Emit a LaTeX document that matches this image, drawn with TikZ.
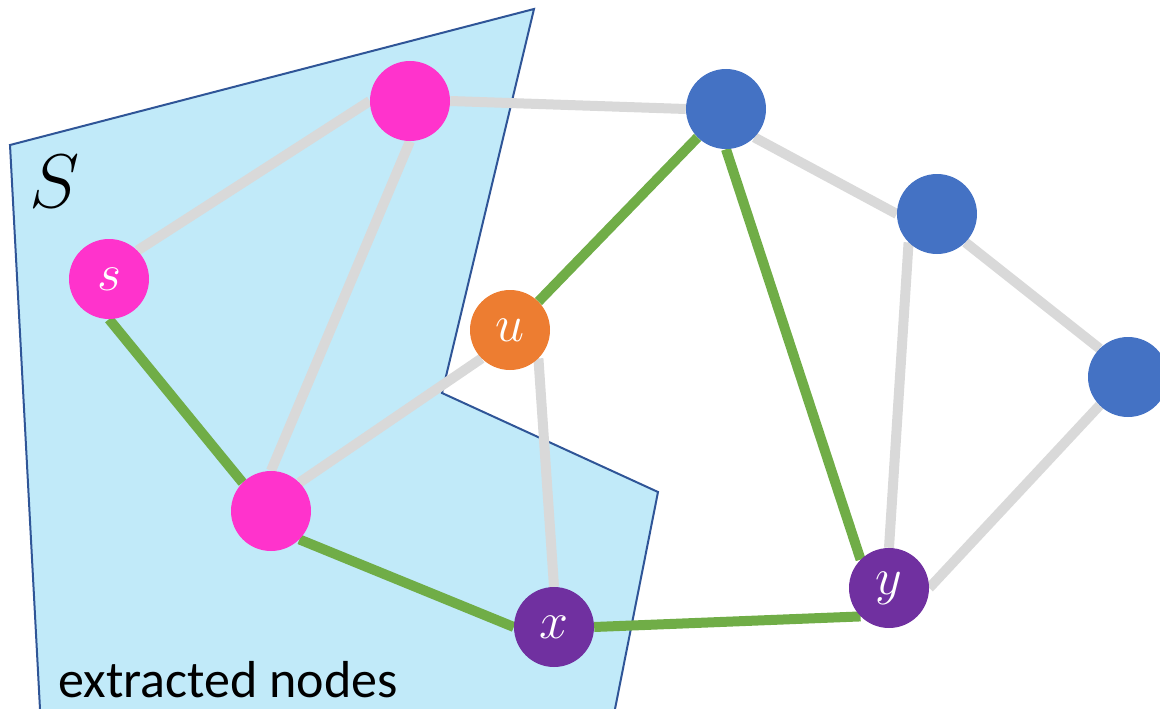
\documentclass[tikz,border=0pt]{standalone}
\usepackage{fix-cm}
\usepackage{fontspec}
\setmainfont{Carlito}
\usetikzlibrary{backgrounds}
\definecolor{pinkN}{HTML}{FF33CC}
\definecolor{blueN}{HTML}{4472C4}
\definecolor{orangeN}{HTML}{ED7D31}
\definecolor{purpleN}{HTML}{7030A0}
\definecolor{greenE}{HTML}{70AD47}
\definecolor{grayE}{HTML}{D9D9D9}
\definecolor{regionfill}{HTML}{C1EAF9}
\definecolor{regionline}{HTML}{2F5597}
\begin{document}
\begin{tikzpicture}[x=1pt,y=-1pt,
  vtx/.style={circle,minimum size=80pt,inner sep=0pt,text=white,font=\fontsize{52}{56}\selectfont},
  grayedge/.style={grayE,line width=10pt},
  greenedge/.style={greenE,line width=10pt},
  region/.style={draw=regionline,line width=2pt,line join=miter}]
\useasboundingbox (0,0) rectangle (1160,709);
% nodes
\node[vtx,fill=pinkN] (p1) at (410,101) {};
\node[vtx,fill=pinkN] (s) at (109,279) {$s$};
\node[vtx,fill=pinkN] (p2) at (271,511) {};
\node[vtx,fill=orangeN] (u) at (510,330) {$u$};
\node[vtx,fill=purpleN] (x) at (554,627) {$x$};
\node[vtx,fill=purpleN] (y) at (889,588) {$y$};
\node[vtx,fill=blueN] (b1) at (726,109) {};
\node[vtx,fill=blueN] (b2) at (937,214) {};
\node[vtx,fill=blueN] (b3) at (1128,377) {};
\begin{pgfonlayer}{background}
  \fill[regionfill] (10,145) -- (534,9) -- (442,393) -- (658,492) -- (615,709) -- (40,709) -- cycle;
  \draw[region] (40,709) -- (10,145) -- (534,9) -- (442,393) -- (658,492) -- (615,709);
  \draw[grayedge] (s.north east) -- (p1.west);
  \draw[grayedge] (p1.south) -- (p2.north);
  \draw[grayedge] (p1.east) -- (b1.west);
  \draw[grayedge] (p2.north east) -- (u.south west);
  \draw[grayedge] (u.south east) -- (x.north);
  \draw[grayedge] (b1.south east) -- (b2.west);
  \draw[grayedge] (b2.south west) -- (y.north);
  \draw[grayedge] (b2.south east) -- (b3.north west);
  \draw[grayedge] (b3.south west) -- (y.east);
  \draw[greenedge] (s.south) -- (p2.north west);
  \draw[greenedge] (p2.south east) -- (x.west);
  \draw[greenedge] (x.east) -- (y.south west);
  \draw[greenedge] (u.north east) -- (b1.south west);
  \draw[greenedge] (b1.south) -- (y.north west);
\end{pgfonlayer}
\node[font=\fontsize{76}{80}\selectfont] (Slab) at (55,182) {$S$};
\node[anchor=base west,font=\fontsize{52}{60}\selectfont] (ext) at (55,697) {extracted nodes};
\end{tikzpicture}
\end{document}
